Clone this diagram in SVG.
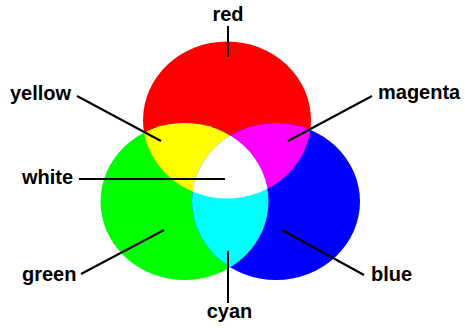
<svg xmlns="http://www.w3.org/2000/svg" width="465" height="328" viewBox="0 0 465 328">
<style>
  .lbl { font-family: "Liberation Sans", Arial, sans-serif; font-weight: bold; font-size: 20px; fill: #000; }
  .ln { stroke: #000; stroke-width: 2; fill: none; }
</style>
<defs>
  <ellipse id="eR" cx="227" cy="120" rx="84" ry="78.5"/>
  <ellipse id="eG" cx="184.5" cy="201.5" rx="84" ry="78.5"/>
  <ellipse id="eB" cx="276" cy="201.5" rx="84" ry="78.5"/>
  <clipPath id="cG"><use href="#eG"/></clipPath>
  <clipPath id="cB"><use href="#eB"/></clipPath>
</defs>
<rect width="465" height="328" fill="#fff"/>
<g id="red"><use href="#eR" fill="#ff0000"/><text class="lbl" x="228" y="21" text-anchor="middle">red</text></g>
<g id="green"><use href="#eG" fill="#00ff00"/><text class="lbl" x="22" y="281">green</text></g>
<g id="blue"><use href="#eB" fill="#0000ff"/><text class="lbl" x="371" y="281">blue</text></g>
<g id="yellow"><use href="#eR" fill="#ffff00" clip-path="url(#cG)"/><text class="lbl" x="10" y="100">yellow</text></g>
<g id="magenta"><use href="#eR" fill="#ff00ff" clip-path="url(#cB)"/><text class="lbl" x="378" y="99">magenta</text></g>
<g id="cyan"><use href="#eG" fill="#00ffff" clip-path="url(#cB)"/><text class="lbl" x="229.5" y="318" text-anchor="middle">cyan</text></g>
<g id="white"><g clip-path="url(#cB)"><use href="#eR" fill="#ffffff" clip-path="url(#cG)"/></g><text class="lbl" x="22" y="184">white</text></g>
<g id="connectors">
  <line class="ln" x1="228" y1="26" x2="228" y2="57"/>
  <line class="ln" x1="77" y1="96" x2="161" y2="141"/>
  <line class="ln" x1="79" y1="179" x2="225" y2="179"/>
  <line class="ln" x1="372" y1="96" x2="288" y2="141"/>
  <line class="ln" x1="81" y1="274" x2="164" y2="230"/>
  <line class="ln" x1="228" y1="251" x2="228" y2="303"/>
  <line class="ln" x1="282" y1="230" x2="364" y2="275"/>
</g>
</svg>
